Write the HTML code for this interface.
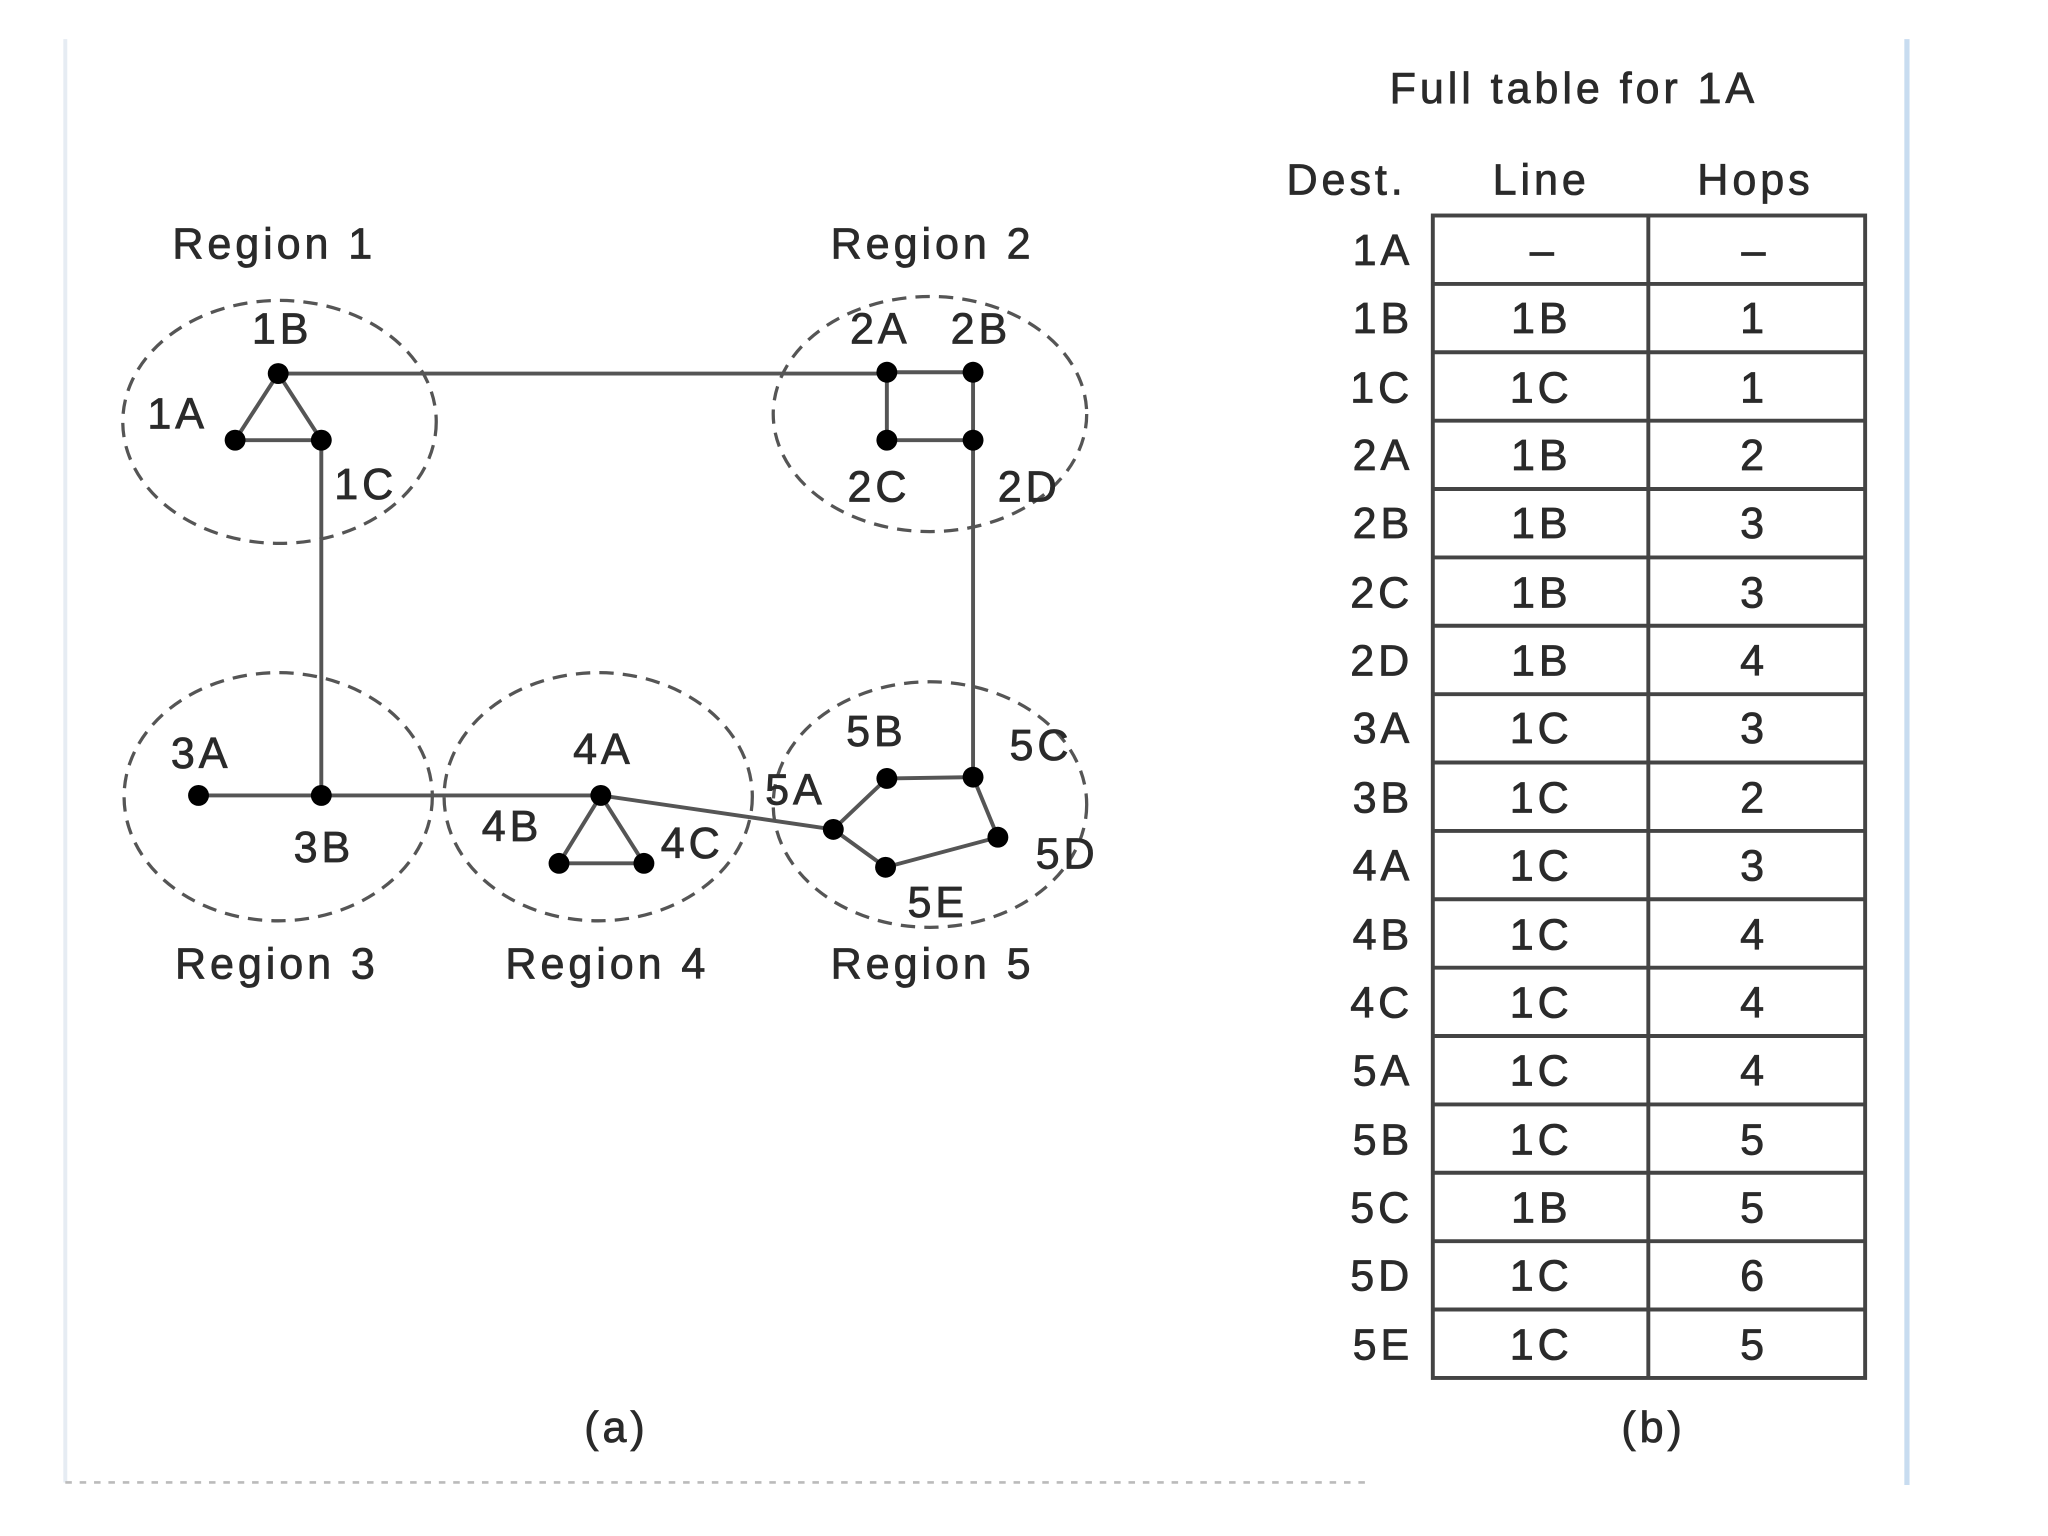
<!DOCTYPE html>
<html><head><meta charset="utf-8"><style>
html,body{margin:0;padding:0;background:#fff;}
svg{display:block;}
text{font-family:"Liberation Sans",sans-serif;fill:#2a2a2a;stroke:#2a2a2a;stroke-width:0.6;letter-spacing:3px;}
</style></head><body>
<svg width="2048" height="1536" viewBox="0 0 1568 1176" xmlns="http://www.w3.org/2000/svg">
<rect width="1568" height="1176" fill="#fff"/>
<line x1="50" y1="30" x2="50" y2="1135" stroke="#e6ecf3" stroke-width="3"/>
<line x1="1460" y1="30" x2="1460" y2="1137" stroke="#c8dcf0" stroke-width="4"/>
<line x1="50" y1="1135" x2="1045" y2="1135" stroke="#bbb" stroke-width="2" stroke-dasharray="5,6"/>
<g fill="none" stroke="#555" stroke-width="2.5" stroke-dasharray="11,7">
<ellipse cx="214" cy="323" rx="120" ry="93"/>
<ellipse cx="712" cy="317" rx="120" ry="90"/>
<ellipse cx="213" cy="610" rx="118" ry="95"/>
<ellipse cx="458" cy="610" rx="118" ry="95"/>
<ellipse cx="712" cy="616" rx="120" ry="94"/>
</g>
<g stroke="#555" stroke-width="3" fill="none">
<line x1="213" y1="286" x2="679" y2="286"/>
<polygon points="213,286 180,337 246,337"/>
<polygon points="679,285 745,285 745,337 679,337"/>
<line x1="246" y1="337" x2="246" y2="609"/>
<line x1="745" y1="337" x2="745" y2="595"/>
<line x1="152" y1="609" x2="460" y2="609"/>
<line x1="460" y1="609" x2="638" y2="635"/>
<polygon points="460,609 428,661 493,661"/>
<polygon points="638,635 679,596 745,595 764,641 678,664"/>
</g>
<g fill="#000">
<circle cx="213" cy="286" r="8"/><circle cx="180" cy="337" r="8"/><circle cx="246" cy="337" r="8"/>
<circle cx="679" cy="285" r="8"/><circle cx="745" cy="285" r="8"/><circle cx="679" cy="337" r="8"/><circle cx="745" cy="337" r="8"/>
<circle cx="152" cy="609" r="8"/><circle cx="246" cy="609" r="8"/>
<circle cx="460" cy="609" r="8"/><circle cx="428" cy="661" r="8"/><circle cx="493" cy="661" r="8"/>
<circle cx="638" cy="635" r="8"/><circle cx="679" cy="596" r="8"/><circle cx="745" cy="595" r="8"/><circle cx="764" cy="641" r="8"/><circle cx="678" cy="664" r="8"/>
</g>
<g font-size="33" text-anchor="middle">
<text x="210" y="198">Region 1</text>
<text x="714" y="198">Region 2</text>
<text x="212" y="749">Region 3</text>
<text x="465" y="749">Region 4</text>
<text x="714" y="749">Region 5</text>
<text x="216" y="263">1B</text>
<text x="136" y="328">1A</text>
<text x="280" y="382">1C</text>
<text x="674" y="263">2A</text>
<text x="751" y="263">2B</text>
<text x="673" y="384">2C</text>
<text x="788" y="384">2D</text>
<text x="154" y="588">3A</text>
<text x="248" y="660">3B</text>
<text x="462" y="585">4A</text>
<text x="392" y="644">4B</text>
<text x="530" y="657">4C</text>
<text x="609" y="616">5A</text>
<text x="671" y="571">5B</text>
<text x="797" y="582">5C</text>
<text x="817" y="665">5D</text>
<text x="718" y="702">5E</text>
<text x="472" y="1104">(a)</text>
<text x="1266" y="1104">(b)</text>
<text x="1205" y="79">Full table for 1A</text>
<text x="1031" y="149">Dest.</text>
<text x="1180" y="149">Line</text>
<text x="1344" y="149">Hops</text>
</g>
<g stroke="#444" stroke-width="3" fill="none">
<rect x="1097" y="165" width="331" height="890"/>
<line x1="1262" y1="165" x2="1262" y2="1055"/>
</g>
<g stroke="#444" stroke-width="3">
<line x1="1097" y1="217.4" x2="1428" y2="217.4"/><line x1="1097" y1="269.7" x2="1428" y2="269.7"/>
<line x1="1097" y1="322.1" x2="1428" y2="322.1"/><line x1="1097" y1="374.4" x2="1428" y2="374.4"/>
<line x1="1097" y1="426.8" x2="1428" y2="426.8"/><line x1="1097" y1="479.1" x2="1428" y2="479.1"/>
<line x1="1097" y1="531.5" x2="1428" y2="531.5"/><line x1="1097" y1="583.8" x2="1428" y2="583.8"/>
<line x1="1097" y1="636.2" x2="1428" y2="636.2"/><line x1="1097" y1="688.5" x2="1428" y2="688.5"/>
<line x1="1097" y1="740.9" x2="1428" y2="740.9"/><line x1="1097" y1="793.2" x2="1428" y2="793.2"/>
<line x1="1097" y1="845.6" x2="1428" y2="845.6"/><line x1="1097" y1="897.9" x2="1428" y2="897.9"/>
<line x1="1097" y1="950.3" x2="1428" y2="950.3"/><line x1="1097" y1="1002.6" x2="1428" y2="1002.6"/>
</g>
<g font-size="33">
<g text-anchor="end">
<text x="1082" y="203">1A</text><text x="1082" y="255">1B</text><text x="1082" y="308">1C</text>
<text x="1082" y="360">2A</text><text x="1082" y="412">2B</text><text x="1082" y="465">2C</text>
<text x="1082" y="517">2D</text><text x="1082" y="569">3A</text><text x="1082" y="622">3B</text>
<text x="1082" y="674">4A</text><text x="1082" y="727">4B</text><text x="1082" y="779">4C</text>
<text x="1082" y="831">5A</text><text x="1082" y="884">5B</text><text x="1082" y="936">5C</text>
<text x="1082" y="988">5D</text><text x="1082" y="1041">5E</text>
</g>
<g text-anchor="middle">
<text x="1182" y="203">–</text><text x="1180" y="255">1B</text><text x="1180" y="308">1C</text>
<text x="1180" y="360">1B</text><text x="1180" y="412">1B</text><text x="1180" y="465">1B</text>
<text x="1180" y="517">1B</text><text x="1180" y="569">1C</text><text x="1180" y="622">1C</text>
<text x="1180" y="674">1C</text><text x="1180" y="727">1C</text><text x="1180" y="779">1C</text>
<text x="1180" y="831">1C</text><text x="1180" y="884">1C</text><text x="1180" y="936">1B</text>
<text x="1180" y="988">1C</text><text x="1180" y="1041">1C</text>
<text x="1344" y="203">–</text><text x="1343" y="255">1</text><text x="1343" y="308">1</text>
<text x="1343" y="360">2</text><text x="1343" y="412">3</text><text x="1343" y="465">3</text>
<text x="1343" y="517">4</text><text x="1343" y="569">3</text><text x="1343" y="622">2</text>
<text x="1343" y="674">3</text><text x="1343" y="727">4</text><text x="1343" y="779">4</text>
<text x="1343" y="831">4</text><text x="1343" y="884">5</text><text x="1343" y="936">5</text>
<text x="1343" y="988">6</text><text x="1343" y="1041">5</text>
</g>
</g>
</svg>
</body></html>
